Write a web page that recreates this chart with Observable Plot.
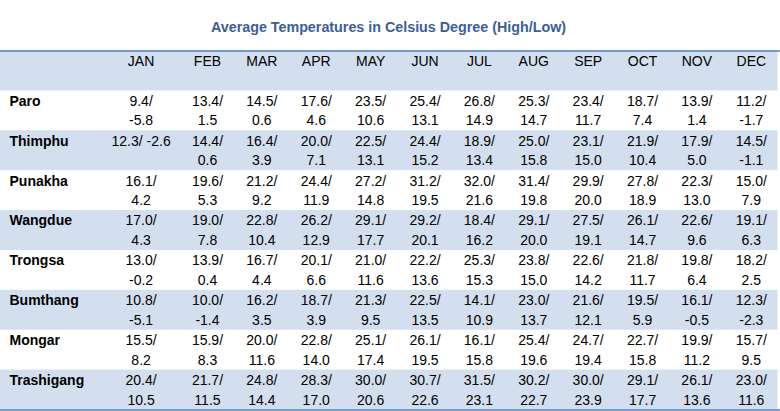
<!DOCTYPE html>
<html>
<head>
<meta charset="utf-8">
<script src="https://cdn.jsdelivr.net/npm/d3@7"></script>
<script src="https://cdn.jsdelivr.net/npm/@observablehq/plot@0.6"></script>
<style>
  html, body { margin: 0; padding: 0; background: #fff; }
  #chart svg { display: block; }
</style>
</head>
<body>
<div id="chart"></div>
<script>
const title = "Average Temperatures in Celsius Degree (High/Low)";
const months = ["JAN","FEB","MAR","APR","MAY","JUN","JUL","AUG","SEP","OCT","NOV","DEC"];
const cities = ["Paro","Thimphu","Punakha","Wangdue","Trongsa","Bumthang","Mongar","Trashigang"];
const highs = [
  [9.4,13.4,14.5,17.6,23.5,25.4,26.8,25.3,23.4,18.7,13.9,11.2],
  [12.3,14.4,16.4,20.0,22.5,24.4,18.9,25.0,23.1,21.9,17.9,14.5],
  [16.1,19.6,21.2,24.4,27.2,31.2,32.0,31.4,29.9,27.8,22.3,15.0],
  [17.0,19.0,22.8,26.2,29.1,29.2,18.4,29.1,27.5,26.1,22.6,19.1],
  [13.0,13.9,16.7,20.1,21.0,22.2,25.3,23.8,22.6,21.8,19.8,18.2],
  [10.8,10.0,16.2,18.7,21.3,22.5,14.1,23.0,21.6,19.5,16.1,12.3],
  [15.5,15.9,20.0,22.8,25.1,26.1,16.1,25.4,24.7,22.7,19.9,15.7],
  [20.4,21.7,24.8,28.3,30.0,30.7,31.5,30.2,30.0,29.1,26.1,23.0]
];
const lows = [
  [-5.8,1.5,0.6,4.6,10.6,13.1,14.9,14.7,11.7,7.4,1.4,-1.7],
  [-2.6,0.6,3.9,7.1,13.1,15.2,13.4,15.8,15.0,10.4,5.0,-1.1],
  [4.2,5.3,9.2,11.9,14.8,19.5,21.6,19.8,20.0,18.9,13.0,7.9],
  [4.3,7.8,10.4,12.9,17.7,20.1,16.2,20.0,19.1,14.7,9.6,6.3],
  [-0.2,0.4,4.4,6.6,11.6,13.6,15.3,15.0,14.2,11.7,6.4,2.5],
  [-5.1,-1.4,3.5,3.9,9.5,13.5,10.9,13.7,12.1,5.9,-0.5,-2.3],
  [8.2,8.3,11.6,14.0,17.4,19.5,15.8,19.6,19.4,15.8,11.2,9.5],
  [10.5,11.5,14.4,17.0,20.6,22.6,23.1,22.7,23.9,17.7,13.6,11.6]
];
// cells written on a single line in the original table
const singleLineCells = [["Thimphu","JAN"]];

const HEADER = "header";
const rows = [HEADER, ...cities];

const cells = [];
cities.forEach((city, i) => {
  months.forEach((m, j) => {
    const single = singleLineCells.some(([c, mm]) => c === city && mm === m);
    const hi = highs[i][j].toFixed(1), lo = lows[i][j].toFixed(1);
    cells.push({city, month: m, label: single ? `${hi}/ ${lo}` : `${hi}/\n${lo}`});
  });
});

const W = 780, H = 411;
const yTop = 50.5, yBottom = 409.5;
const bw = (yBottom - yTop) / rows.length;
const font = "'Liberation Sans', Arial, sans-serif";
const firstCol = d => d.month === "JAN";
const JAN_DX = -12;
const textOpts = {fontSize: 14, lineAnchor: "top", dy: -19, lineHeight: 1.4, fill: "#000"};

const chart = Plot.plot({
  width: W,
  height: H,
  marginTop: 0, marginRight: 0, marginBottom: 0, marginLeft: 0,
  style: {fontFamily: font, background: "#fff"},
  x: {type: "band", domain: months, range: [125.4, 778], padding: 0, round: false, axis: null},
  y: {type: "band", domain: rows, range: [yTop, yBottom], padding: 0, round: false, axis: null},
  marks: [
    Plot.cell(rows.filter((d, i) => i % 2 === 0), {y: d => d, fill: "#D3DFEE", insetRight: 2.5}),
    Plot.ruleY([HEADER], {y: d => d, dy: -bw / 2, stroke: "#4F81BD", strokeWidth: 1.6}),
    Plot.ruleY([cities[cities.length - 1]], {y: d => d, dy: bw / 2, stroke: "#4F81BD", strokeWidth: 1.6}),
    Plot.text([title], {frameAnchor: "top", dy: 27, dx: -2, lineAnchor: "middle", fontSize: 14.3, fontWeight: "bold", fill: "#3B5E9B"}),
    // month headers
    Plot.text(months.filter(m => m !== "JAN"), {x: d => d, y: () => HEADER, ...textOpts}),
    Plot.text(["JAN"], {x: d => d, y: () => HEADER, ...textOpts, dx: JAN_DX}),
    // row labels
    Plot.text(cities, {y: d => d, frameAnchor: "left", textAnchor: "start", dx: 9, fontWeight: "bold", ...textOpts}),
    // values
    Plot.text(cells.filter(d => !firstCol(d)), {x: "month", y: "city", text: "label", ...textOpts}),
    Plot.text(cells.filter(firstCol), {x: "month", y: "city", text: "label", ...textOpts, dx: JAN_DX})
  ]
});
document.getElementById("chart").appendChild(chart);
</script>
</body>
</html>
